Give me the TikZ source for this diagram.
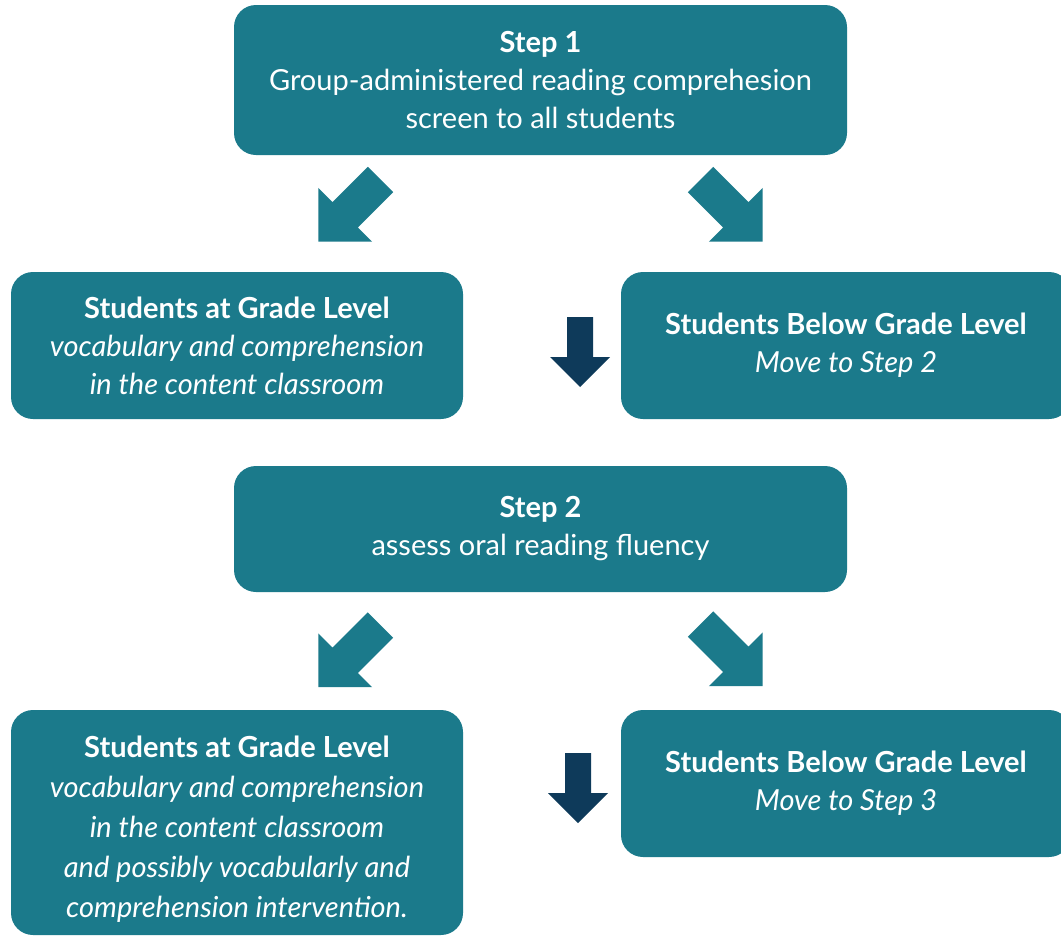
\documentclass[tikz,border=0pt]{standalone}
\usepackage{fontspec}
\setmainfont{Lato}
\definecolor{teal}{HTML}{1B7A8B}
\definecolor{navy}{HTML}{0E3A5A}
\tikzset{
  box/.style={rounded corners=22pt, fill=teal, text=white, inner sep=0pt,
    align=center, font=\fontsize{29}{38}\selectfont},
  boxtext/.style={text=white, inner sep=0pt, align=center, font=\fontsize{29}{40}\selectfont},
  diagarrow/.pic={\fill[teal] (0,18) -- (50,18) -- (50,38) -- (88,0) -- (50,-38) -- (50,-18) -- (0,-18) -- cycle;},
  downarrow/.pic={\fill[navy] (0,13) -- (40,13) -- (40,30) -- (70,0) -- (40,-30) -- (40,-13) -- (0,-13) -- cycle;}
}
\begin{document}
\begin{tikzpicture}[x=1pt,y=-1pt]
\useasboundingbox (0,0) rectangle (1061,937);
\clip (0,0) rectangle (1061,937);
\node[box, minimum width=613pt, minimum height=150pt] (s1) at (540.5,80)
  {\textbf{Step 1}\\Group-administered reading comprehesion\\screen to all students};
\node[box, minimum width=452pt, minimum height=147pt] (g1) at (237,345.5)
  {\textbf{Students at Grade Level}\\\textit{vocabulary and comprehension}\\\textit{in the content classroom}};
\node[box, minimum width=450pt, minimum height=147pt] (b1) at (846,345.5)
  {\textbf{Students Below Grade Level}\\\textit{Move to Step 2}};
\node[box, minimum width=613pt, minimum height=126pt] (s2) at (540.5,529)
  {\textbf{Step 2}\\assess oral reading fluency};
\node[box, minimum width=452pt, minimum height=225pt] (g2) at (237,822.5) {};
\node[boxtext] (g2text) at (237,829)
  {\textbf{Students at Grade Level}\\\textit{vocabulary and comprehension}\\\textit{in the content classroom}\\\textit{and possibly vocabularly and}\\\textit{comprehension intervention.}};
\node[box, minimum width=450pt, minimum height=147pt] (b2) at (846,783.5)
  {\textbf{Students Below Grade Level}\\\textit{Move to Step 3}};
% block arrows
\pic[rotate=225] at (380.5,179.5) {diagarrow};
\pic[rotate=315] at (700.5,179.5) {diagarrow};
\pic[rotate=270] at (580,317) {downarrow};
\pic[rotate=225] at (380.5,625) {diagarrow};
\pic[rotate=315] at (700.5,624) {diagarrow};
\pic[rotate=270] at (578,753) {downarrow};
\end{tikzpicture}
\end{document}
